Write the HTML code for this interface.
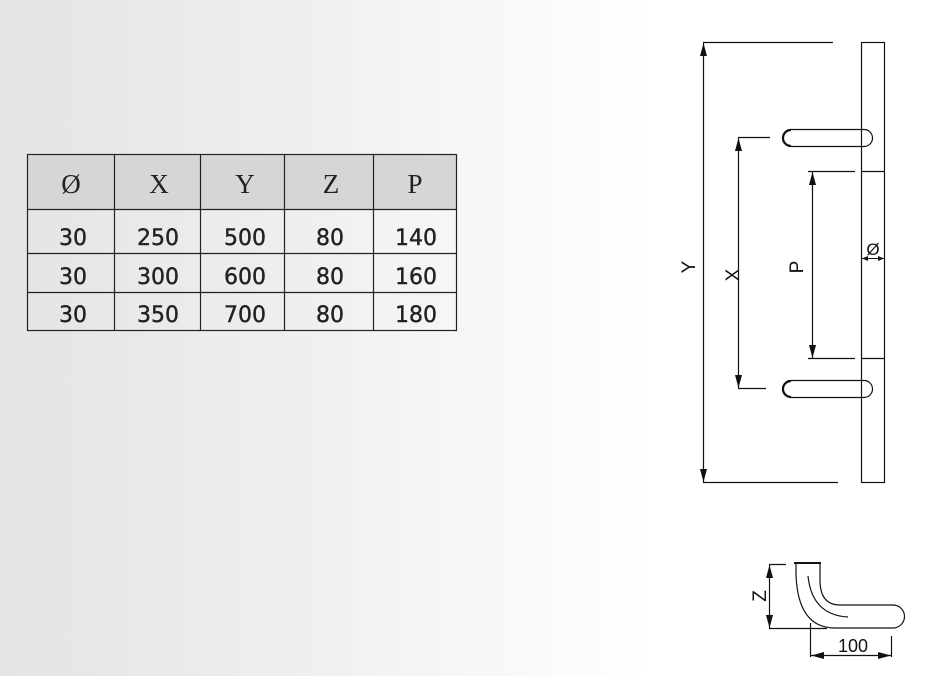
<!DOCTYPE html>
<html><head><style>
html,body{margin:0;padding:0}
body{width:933px;height:676px;overflow:hidden;background:linear-gradient(90deg,#e3e4e6 0px,#eeeff0 300px,#fbfbfb 560px,#fff 650px)}
svg{position:absolute;left:0;top:0}
</style></head><body>
<svg width="933" height="676" viewBox="0 0 933 676" xmlns="http://www.w3.org/2000/svg">
<rect x="27.5" y="154.5" width="429" height="55" fill="#d5d6d8"/>
<g stroke="#222" stroke-width="1.2" fill="none">
<rect x="27.5" y="154.5" width="429" height="176"/>
<line x1="27" y1="209.5" x2="457" y2="209.5"/>
<line x1="27" y1="253.5" x2="457" y2="253.5"/>
<line x1="27" y1="292.5" x2="457" y2="292.5"/>
<line x1="114.5" y1="154" x2="114.5" y2="331"/>
<line x1="200.5" y1="154" x2="200.5" y2="331"/>
<line x1="284.5" y1="154" x2="284.5" y2="331"/>
<line x1="373.5" y1="154" x2="373.5" y2="331"/>
</g>
<g font-family="Liberation Serif, serif" font-size="27" fill="#222" text-anchor="middle">
<text x="71" y="193">Ø</text><text x="159" y="193">X</text><text x="245" y="193">Y</text><text x="331" y="193">Z</text><text x="415" y="193">P</text>
</g>
<g font-family="DejaVu Sans, sans-serif" font-size="22" fill="#222" text-anchor="middle" stroke="#222" stroke-width="0.4">
<text x="73" y="245">30</text><text x="158" y="245">250</text><text x="245" y="245">500</text><text x="330" y="245">80</text><text x="416" y="245">140</text>
<text x="73" y="284">30</text><text x="158" y="284">300</text><text x="245" y="284">600</text><text x="330" y="284">80</text><text x="416" y="284">160</text>
<text x="73" y="322">30</text><text x="158" y="322">350</text><text x="245" y="322">700</text><text x="330" y="322">80</text><text x="416" y="322">180</text>
</g>
<g stroke="#111" stroke-width="1.2" fill="none">
<line x1="703" y1="42.5" x2="833" y2="42.5"/>
<line x1="703" y1="482.5" x2="838" y2="482.5"/>
<line x1="703.5" y1="43" x2="703.5" y2="482"/>
<rect x="861.5" y="42.5" width="23" height="440"/>
<path d="M791,129.5 H864 A8.5,8.5 0 0 1 864,146.5 H791 A8.5,8.5 0 0 1 791,129.5 Z" fill="#fff"/>
<path d="M791,380.5 H864 A8.5,8.5 0 0 1 864,397.5 H791 A8.5,8.5 0 0 1 791,380.5 Z" fill="#fff"/>
<path d="M791,130 A8,8 0 0 0 791,146" stroke-width="2.2"/>
<path d="M791,381 A8,8 0 0 0 791,397" stroke-width="2.2"/>
<line x1="861.5" y1="129" x2="861.5" y2="147"/>
<line x1="861.5" y1="380" x2="861.5" y2="398"/>
<line x1="738" y1="137.5" x2="770" y2="137.5"/>
<line x1="738" y1="388.5" x2="766" y2="388.5"/>
<line x1="738.5" y1="138" x2="738.5" y2="388"/>
<line x1="808" y1="171.5" x2="855" y2="171.5"/>
<line x1="861" y1="171.5" x2="884" y2="171.5"/>
<line x1="808" y1="358.5" x2="855" y2="358.5"/>
<line x1="861" y1="358.5" x2="884" y2="358.5"/>
<line x1="812.5" y1="172" x2="812.5" y2="358"/>
<line x1="862" y1="258.5" x2="884" y2="258.5" stroke-width="1"/>
</g>
<g fill="#111">
<path d="M703.5,43 l-3.5,13 h7z M703.5,482 l-3.5,-13 h7z"/>
<path d="M738.5,138 l-3.5,13 h7z M738.5,388 l-3.5,-13 h7z"/>
<path d="M812.5,172 l-3.5,13 h7z M812.5,358 l-3.5,-13 h7z"/>
<path d="M862,258.5 l6,-2.5 v5z M884,258.5 l-6,-2.5 v5z"/>
</g>
<g font-family="Liberation Sans, sans-serif" font-size="19" fill="#111" text-anchor="middle">
<text transform="translate(695,267) rotate(-90)">Y</text>
<text transform="translate(739,275) rotate(-90)">X</text>
<text transform="translate(803,267) rotate(-90)">P</text>
<text x="873" y="255" font-size="17">Ø</text>
</g>
<g stroke="#111" stroke-width="1.2" fill="none">
<line x1="794" y1="563" x2="821" y2="563" stroke-width="2"/>
<path d="M796,564 V575 Q798,628 835,628 H893 A11.5,11.5 0 0 0 893,605 H840 Q820,605 820,580 V564"/>
<path d="M808,576 Q812,615 848,617"/>
<line x1="769" y1="564.5" x2="786" y2="564.5"/>
<line x1="769" y1="628.5" x2="827" y2="628.5"/>
<line x1="769.5" y1="565" x2="769.5" y2="628"/>
<line x1="810.5" y1="623" x2="810.5" y2="657"/>
<line x1="891.5" y1="636" x2="891.5" y2="657"/>
<line x1="811" y1="655.5" x2="891" y2="655.5"/>
</g>
<g fill="#111">
<path d="M769.5,565 l-3.5,13 h7z M769.5,628 l-3.5,-13 h7z"/>
<path d="M811,655.5 l13,-3.5 v7z M891,655.5 l-13,-3.5 v7z"/>
</g>
<g font-family="Liberation Sans, sans-serif" font-size="19" fill="#111" text-anchor="middle">
<text transform="translate(766,596) rotate(-90)">Z</text>
<text x="853" y="652" font-size="18">100</text>
</g>
</svg>
</body></html>
